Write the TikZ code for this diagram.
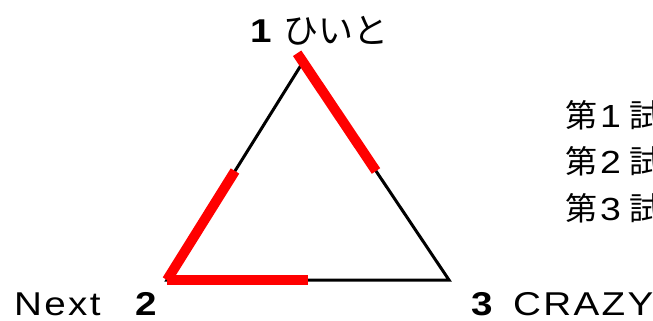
\documentclass[tikz,border=0pt]{standalone}
\usepackage{fontspec}
\usepackage{graphicx}
\setmainfont{Liberation Sans}
\newfontfamily\jp{Noto Sans CJK JP}
\newfontfamily\wide[LetterSpace=6]{Liberation Sans}
\newcommand{\widen}[1]{\scalebox{1.17}[1]{#1}}
\usetikzlibrary{calc}
\begin{document}
\begin{tikzpicture}[x=1pt,y=-1pt,
  lbl/.style={inner sep=0pt, anchor=base west, font=\fontsize{33}{33}\selectfont},
  jlbl/.style={inner sep=0pt, anchor=base west, font=\fontsize{35}{35}\selectfont\jp},
  rlbl/.style={inner sep=0pt, anchor=base west, font=\fontsize{32}{32}\selectfont},
  edge/.style={line width=3pt, black, line join=miter},
  hit/.style={line width=10pt, red}]
\useasboundingbox (0,0) rectangle (653,321);
\clip (0,0) rectangle (653,321);
\coordinate (A) at (303,62);
\coordinate (B) at (167,280);
\coordinate (C) at (449,280);
\draw[edge] (A) -- (B) -- (C) -- cycle;
\draw[hit] ($(A)!-0.04!(C)$) -- ($(A)!0.5!(C)$);
\draw[hit] (B) -- ($(B)!0.5!(A)$);
\draw[hit] (B) -- ($(B)!0.5!(C)$);
\node[lbl] (n1) at (250,43) {\widen{\textbf{1}}};
\node[jlbl] (p1) at (283,44) {ひいと};
\node[lbl] (next) at (14,315) {\widen{\wide Next}};
\node[lbl] (n2) at (135,315) {\widen{\textbf{2}}};
\node[lbl] (n3) at (471,315) {\widen{\textbf{3}}};
\node[lbl] (p3) at (513,315) {\widen{\wide CRAZY}};
\node[rlbl] (m1) at (565,127) {{\jp 第}\hspace{3pt}\widen{1}\hspace{8pt}{\jp 試合}};
\node[rlbl] (m2) at (565,173) {{\jp 第}\hspace{3pt}\widen{2}\hspace{8pt}{\jp 試合}};
\node[rlbl] (m3) at (565,220) {{\jp 第}\hspace{3pt}\widen{3}\hspace{8pt}{\jp 試合}};
\end{tikzpicture}
\end{document}
